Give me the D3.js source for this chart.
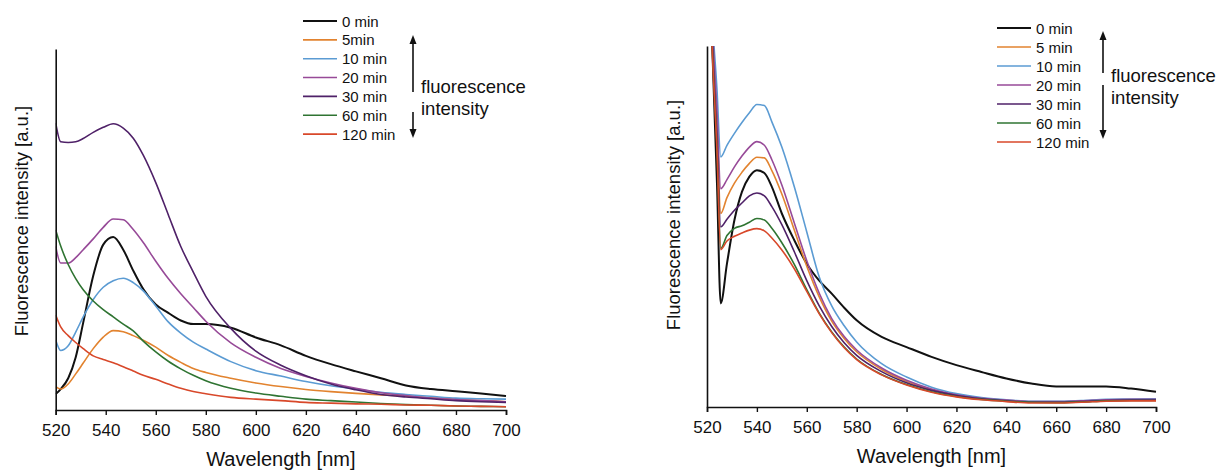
<!DOCTYPE html>
<html>
<head>
<meta charset="utf-8">
<script src="https://cdn.jsdelivr.net/npm/d3@7"></script>
<style>
  body { margin: 0; background: #fff; }
  svg { display: block; }
  text { font-family: "Liberation Sans", Arial, sans-serif; fill: #111; }
</style>
</head>
<body>
<svg id="chart" width="1218" height="470"></svg>
<script>
// x ticks shared by both panels
const xTicks = [520, 540, 560, 580, 600, 620, 640, 660, 680, 700];

// left panel, intensity in a.u. (0..100 = axis height)
const wavelengthsLeft = [520, 522, 525, 528, 531, 535, 539, 543, 547, 551, 555, 560, 565, 570, 575, 580, 590, 600, 610, 620, 630, 640, 650, 660, 670, 680, 690, 700];
const left0   = [4.4, 5.8, 8.8, 14.6, 24.2, 37.2, 45.8, 47.9, 44.4, 38.6, 33.5, 29.2, 26.9, 24.8, 23.8, 23.8, 22.8, 20.1, 17.9, 15.0, 12.7, 10.7, 8.8, 6.8, 5.8, 5.2, 4.6, 3.9];
const left5   = [6.5, 5.8, 7.2, 10.0, 13.0, 17.0, 20.2, 22.0, 21.7, 20.6, 19.3, 17.4, 15.1, 13.2, 11.5, 10.4, 8.8, 7.5, 6.5, 5.7, 5.1, 4.6, 4.2, 3.8, 3.4, 2.9, 2.6, 2.3];
const left10  = [19.4, 16.5, 17.8, 21.6, 25.8, 30.6, 34.0, 35.8, 36.5, 35.3, 33.0, 28.8, 24.4, 21.3, 18.8, 16.9, 13.4, 10.9, 9.4, 7.9, 6.7, 5.8, 4.9, 4.3, 3.8, 3.3, 3.1, 3.0];
const left20  = [45.3, 40.7, 40.7, 42.2, 44.4, 47.4, 50.6, 52.9, 52.7, 50.0, 46.4, 41.2, 36.4, 32.2, 28.4, 24.6, 18.6, 14.6, 11.5, 9.3, 7.5, 6.0, 4.8, 4.0, 3.3, 2.9, 2.6, 2.3];
const left30  = [79.5, 74.3, 74.1, 74.3, 75.2, 76.9, 78.3, 79.3, 78.1, 75.3, 70.6, 63.0, 54.1, 45.3, 38.2, 31.5, 22.6, 16.3, 12.4, 9.5, 7.2, 5.6, 4.3, 3.6, 3.1, 2.6, 2.3, 2.1];
const left60  = [49.9, 45.4, 40.3, 36.4, 33.3, 30.2, 27.8, 25.8, 23.8, 21.9, 19.1, 16.1, 13.5, 11.4, 9.6, 8.1, 6.0, 4.7, 3.8, 3.0, 2.6, 2.2, 1.8, 1.5, 1.3, 1.1, 1.0, 0.9];
const left120 = [26.3, 23.0, 20.6, 18.7, 17.0, 15.0, 14.0, 13.1, 12.0, 10.8, 9.6, 8.5, 7.2, 6.0, 5.1, 4.5, 3.5, 3.0, 2.6, 2.1, 1.9, 1.7, 1.6, 1.4, 1.3, 1.1, 1.0, 0.9];
const labelsLeft = ["0 min", "5min", "10 min", "20 min", "30 min", "60 min", "120 min"];

// right panel
const wavelengthsRight = [520, 522, 524, 525.5, 528, 531, 534, 537, 540, 543, 546, 550, 555, 560, 565, 570, 575, 580, 590, 600, 610, 620, 630, 640, 650, 660, 670, 680, 690, 700];
const right0   = [150, 102, 62, 28.7, 39.7, 51.8, 59.6, 63.8, 65.6, 64.8, 61.0, 53.6, 46.2, 39.7, 35.0, 31.4, 27.5, 24.0, 19.4, 16.6, 13.9, 11.6, 9.7, 7.9, 6.5, 5.7, 5.7, 5.7, 5.1, 4.2];
const right5   = [150, 106, 78, 53.6, 58.0, 62.0, 65.0, 67.5, 69.2, 69.0, 65.5, 59.0, 49.0, 39.0, 30.5, 23.8, 19.0, 15.3, 10.4, 7.1, 4.8, 3.3, 2.3, 1.8, 1.4, 1.4, 1.6, 1.9, 2.0, 2.0];
const right10  = [150, 110, 88, 69.3, 72.5, 75.8, 78.8, 81.5, 83.8, 83.5, 79.0, 72.0, 61.0, 48.5, 36.0, 28.0, 22.5, 18.0, 12.0, 8.3, 5.5, 3.7, 2.6, 2.0, 1.6, 1.6, 1.8, 2.1, 2.2, 2.3];
const right20  = [150, 108, 82, 60.5, 63.0, 66.5, 69.5, 72.0, 73.5, 72.5, 68.5, 61.5, 51.0, 40.5, 31.5, 24.5, 19.5, 15.8, 10.8, 7.4, 5.0, 3.4, 2.4, 1.9, 1.5, 1.5, 1.7, 2.0, 2.1, 2.1];
const right30  = [150, 104, 74, 49.9, 52.0, 54.5, 56.5, 58.5, 59.3, 58.5, 55.5, 50.5, 43.0, 35.0, 28.0, 22.3, 17.8, 14.3, 9.8, 6.7, 4.6, 3.2, 2.3, 1.7, 1.3, 1.3, 1.5, 1.8, 1.9, 1.9];
const right60  = [150, 102, 72, 43.9, 47.5, 49.5, 50.2, 51.2, 52.2, 51.8, 49.5, 45.5, 39.5, 32.5, 26.0, 20.8, 16.6, 13.3, 9.0, 6.2, 4.2, 2.9, 2.1, 1.6, 1.3, 1.2, 1.4, 1.7, 1.8, 1.8];
const right120 = [150, 101, 71, 43.6, 46.0, 47.3, 48.2, 49.0, 49.4, 48.8, 46.8, 43.5, 38.3, 32.0, 25.8, 20.6, 16.4, 13.1, 8.9, 6.1, 4.1, 2.8, 2.0, 1.5, 1.1, 1.1, 1.3, 1.6, 1.7, 1.7];
const labelsRight = ["0 min", "5 min", "10 min", "20 min", "30 min", "60 min", "120 min"];

const colors = ["#111111", "#e2832f", "#5b9bd3", "#974a98", "#4f2168", "#2f7432", "#d8482a"];

const svg = d3.select("#chart");

function drawPanel(id, cfg) {
  const x = d3.scaleLinear().domain([520, 700]).range([cfg.left, cfg.right]);
  const y = d3.scaleLinear().domain([0, 100]).range([cfg.base, cfg.top]);
  const g = svg.append("g");

  g.append("clipPath").attr("id", id)
    .append("rect")
      .attr("x", cfg.left).attr("y", cfg.top)
      .attr("width", cfg.right - cfg.left + 2).attr("height", cfg.base - cfg.top);

  const line = d3.line()
    .x((d, i) => x(cfg.wl[i]))
    .y(d => y(d))
    .curve(d3.curveMonotoneX);

  g.append("g").attr("clip-path", `url(#${id})`)
    .selectAll("path")
      .data(cfg.series)
    .enter().append("path")
      .attr("fill", "none")
      .attr("stroke", (d, i) => colors[i])
      .attr("stroke-width", (d, i) => i === 0 ? 2 : 1.6)
      .attr("stroke-linejoin", "round")
      .attr("d", line);

  const xAxis = g.append("g")
    .attr("transform", `translate(0,${cfg.base})`)
    .call(d3.axisBottom(x).tickValues(xTicks).tickSize(5).tickSizeOuter(5).tickPadding(9));
  xAxis.select(".domain").attr("stroke", "#111").attr("stroke-width", 1.6);
  xAxis.selectAll(".tick line").attr("stroke", "#111").attr("stroke-width", 1.4);
  xAxis.selectAll(".tick text")
    .style("font-family", "'Liberation Sans', Arial, sans-serif")
    .style("font-size", "17px").attr("fill", "#111");

  const yAxis = g.append("g")
    .attr("transform", `translate(${cfg.left},0)`)
    .call(d3.axisLeft(y).tickValues([]).tickSizeOuter(0));
  yAxis.select(".domain").attr("stroke", "#111").attr("stroke-width", 1.6);

  g.append("text")
    .attr("x", (cfg.left + cfg.right) / 2)
    .attr("y", cfg.base + 56)
    .attr("text-anchor", "middle")
    .style("font-size", "20px")
    .text("Wavelength [nm]");

  g.append("text")
    .attr("transform", `translate(${cfg.yLabelX},${cfg.yLabelY}) rotate(-90)`)
    .attr("text-anchor", "middle")
    .style("font-size", "18.5px")
    .text("Fluorescence intensity [a.u.]");

  // legend
  const leg = g.append("g");
  cfg.labels.forEach((lab, i) => {
    const cy = cfg.legY + i * cfg.legStep;
    leg.append("line")
      .attr("x1", cfg.legX).attr("x2", cfg.legX + 34)
      .attr("y1", cy).attr("y2", cy)
      .attr("stroke", colors[i]).attr("stroke-width", i === 0 ? 2 : 1.6);
    leg.append("text")
      .attr("x", cfg.legX + 39).attr("y", cy + 5.5)
      .style("font-size", "15px")
      .text(lab);
  });

  // arrows
  const ax = cfg.arrowX;
  leg.append("line").attr("x1", ax).attr("x2", ax)
    .attr("y1", cfg.upTip + 6).attr("y2", cfg.upEnd)
    .attr("stroke", "#111").attr("stroke-width", 1.6);
  leg.append("path")
    .attr("d", `M${ax},${cfg.upTip} L${ax - 3.5},${cfg.upTip + 9} L${ax + 3.5},${cfg.upTip + 9} Z`)
    .attr("fill", "#111");
  leg.append("line").attr("x1", ax).attr("x2", ax)
    .attr("y1", cfg.downStart).attr("y2", cfg.downTip - 6)
    .attr("stroke", "#111").attr("stroke-width", 1.6);
  leg.append("path")
    .attr("d", `M${ax},${cfg.downTip} L${ax - 3.5},${cfg.downTip - 9} L${ax + 3.5},${cfg.downTip - 9} Z`)
    .attr("fill", "#111");

  leg.append("text").attr("x", ax + 8).attr("y", cfg.fluoY)
    .style("font-size", "18.5px").text("fluorescence");
  leg.append("text").attr("x", ax + 8).attr("y", cfg.fluoY + 22)
    .style("font-size", "18.5px").text("intensity");
}

drawPanel("clipLeft", {
  left: 55.7, right: 506, top: 49, base: 410,
  wl: wavelengthsLeft,
  series: [left0, left5, left10, left20, left30, left60, left120],
  labels: labelsLeft,
  yLabelX: 27.5, yLabelY: 221,
  legX: 303, legY: 21, legStep: 18.85,
  arrowX: 413, upTip: 35, upEnd: 92, downStart: 112, downTip: 138,
  fluoY: 92.5
});

drawPanel("clipRight", {
  left: 707, right: 1156, top: 46, base: 407,
  wl: wavelengthsRight,
  series: [right0, right5, right10, right20, right30, right60, right120],
  labels: labelsRight,
  yLabelX: 679.5, yLabelY: 215,
  legX: 997, legY: 28, legStep: 19,
  arrowX: 1103, upTip: 31, upEnd: 73, downStart: 85, downTip: 139,
  fluoY: 81.5
});
</script>
</body>
</html>
